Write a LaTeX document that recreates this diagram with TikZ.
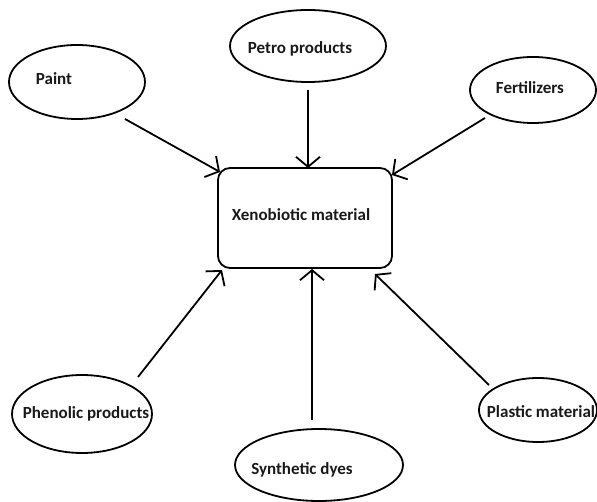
\documentclass[tikz,border=0pt]{standalone}
\usepackage{fontspec}
\setmainfont{Carlito}
\usetikzlibrary{shapes.geometric,arrows.meta}
\begin{document}
\begin{tikzpicture}[x=1pt,y=-1pt,
  src/.style={draw, ellipse, line width=1.8pt, inner sep=0pt},
  lbl/.style={font=\fontsize{17}{20}\selectfont\bfseries, inner sep=0pt, text=black!90},
  conn/.style={line width=1.8pt, -{Straight Barb[length=10pt,width=24pt]}},
  box/.style={draw, rounded corners=12pt, line width=1.8pt}]
\useasboundingbox (0,0) rectangle (597,502);
% ellipses
\node[src, minimum width=136pt, minimum height=74pt] (paint) at (77,82) {};
\node[src, minimum width=156pt, minimum height=72pt] (petro) at (308,46) {};
\node[src, minimum width=126pt, minimum height=66pt] (fert) at (533,90) {};
\node[src, minimum width=140pt, minimum height=78pt] (phen) at (82,414) {};
\node[src, minimum width=168pt, minimum height=72pt] (synth) at (319,465) {};
\node[src, minimum width=118pt, minimum height=64pt] (plast) at (538,410) {};
% central box
\node[box, minimum width=174pt, minimum height=100pt] (xeno) at (305,218) {};
% labels
\node[lbl] (tpaint) at (54,79) {Paint};
\node[lbl] (tpetro) at (300,49) {Petro products};
\node[lbl] (tfert) at (530,88) {Fertilizers};
\node[lbl] (txeno) at (301,215) {Xenobiotic material};
\node[lbl] (tphen) at (86,414) {Phenolic products};
\node[lbl] (tsynth) at (302,470) {Synthetic dyes};
\node[lbl] (tplast) at (541,412) {Plastic material};
% connector end points
\coordinate (s1) at (125,119); \coordinate (e1) at (220,172);
\coordinate (s2) at (308,90);  \coordinate (e2) at (308,168);
\coordinate (s3) at (485,118); \coordinate (e3) at (392,175);
\coordinate (s4) at (138,377); \coordinate (e4) at (222,270);
\coordinate (s5) at (312,420); \coordinate (e5) at (312,269);
\coordinate (s6) at (489,385); \coordinate (e6) at (375,274);
\draw[conn] (s1) -- (e1);
\draw[conn] (s2) -- (e2);
\draw[conn] (s3) -- (e3);
\draw[conn] (s4) -- (e4);
\draw[conn] (s5) -- (e5);
\draw[conn] (s6) -- (e6);
\end{tikzpicture}
\end{document}
